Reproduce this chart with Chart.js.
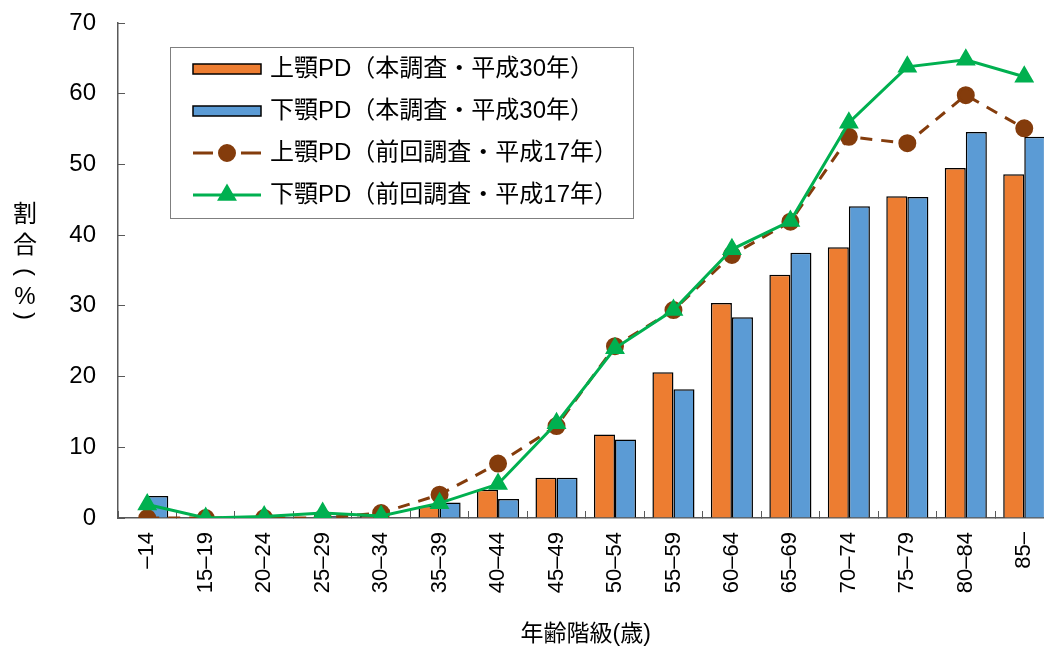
<!DOCTYPE html>
<html>
<head>
<meta charset="utf-8">
<script src="https://cdn.jsdelivr.net/npm/chart.js"></script>
<style>
  html, body { margin: 0; padding: 0; background: #fff; overflow: hidden; }
  canvas { display: block; }
</style>
</head>
<body>
<canvas id="chart" width="1065" height="652"></canvas>
<script>
const ageGroups = ['–14', '15–19', '20–24', '25–29', '30–34', '35–39', '40–44', '45–49',
    '50–54', '55–59', '60–64', '65–69', '70–74', '75–79', '80–84', '85–'];

// 本調査・平成30年
const upperH30 = [0, 0, 0, 0, 0.3, 1.7, 4.0, 5.7, 11.8, 20.6, 30.4, 34.4, 38.3, 45.5, 49.5, 48.6];
const lowerH30 = [3.1, 0, 0, 0.3, 0, 2.2, 2.7, 5.7, 11.1, 18.2, 28.4, 37.5, 44.1, 45.4, 54.6, 53.9];
// 前回調査・平成17年
const upperH17 = [0, 0, 0, 0, 0.7, 3.3, 7.7, 13.0, 24.3, 29.4, 37.2, 41.9, 53.9, 53.0, 59.8, 55.1];
const lowerH17 = [1.9, 0, 0.2, 0.7, 0.3, 2.1, 4.8, 13.4, 24.0, 29.4, 38.0, 42.0, 55.9, 63.8, 64.8, 62.4];

const yTickValues = [0, 10, 20, 30, 40, 50, 60, 70];

const seriesLabels = [
    '上顎PD（本調査・平成30年）',
    '下顎PD（本調査・平成30年）',
    '上顎PD（前回調査・平成17年）',
    '下顎PD（前回調査・平成17年）'
];
// vertical title: characters, with the brackets turned on their side
const yTitleChars = ['割', '合', '(', '%', ')'];
const xTitle = '年齢階級(歳)';

const FONT = "'Liberation Sans', 'Noto Sans CJK JP', sans-serif";
const AXIS_COLOR = '#595959';

// legend drawn inside the plot with a frame, like the original
const legendBox = {
    id: 'legendBox',
    afterDraw(chart) {
        const ctx = chart.ctx;
        const area = chart.chartArea;
        const left = area.left + 52;
        const top = area.top + 24;
        const w = 463, h = 171, rowH = 42;
        ctx.save();
        ctx.fillStyle = '#fff';
        ctx.fillRect(left, top, w, h);
        ctx.strokeStyle = '#7f7f7f';
        ctx.lineWidth = 1;
        ctx.strokeRect(left + 0.5, top + 0.5, w, h);

        chart.data.datasets.forEach((ds, i) => {
            const cy = top + 22 + i * rowH;
            const x0 = left + 23, x1 = left + 91;
            if (ds.type === 'bar') {
                ctx.fillStyle = ds.backgroundColor;
                ctx.fillRect(x0, cy - 5, x1 - x0, 10);
                ctx.strokeStyle = '#000';
                ctx.lineWidth = 1.5;
                ctx.strokeRect(x0, cy - 5, x1 - x0, 10);
            } else {
                ctx.strokeStyle = ds.borderColor;
                ctx.lineWidth = ds.borderWidth;
                ctx.beginPath();
                if (ds.borderDash) {
                    ctx.moveTo(x0, cy); ctx.lineTo(x0 + 20, cy);
                    ctx.moveTo(x1 - 20, cy); ctx.lineTo(x1, cy);
                } else {
                    ctx.moveTo(x0, cy); ctx.lineTo(x1, cy);
                }
                ctx.stroke();
                ctx.fillStyle = ds.pointBackgroundColor;
                ctx.strokeStyle = ds.pointBorderColor;
                Chart.helpers.drawPoint(ctx, {
                    pointStyle: ds.pointStyle, radius: ds.pointRadius,
                    rotation: 0, borderWidth: 1
                }, (x0 + x1) / 2, cy);
            }
            ctx.fillStyle = '#000';
            ctx.font = '24px ' + FONT;
            ctx.textBaseline = 'middle';
            ctx.textAlign = 'left';
            ctx.fillText(ds.label, x1 + 9, cy);
        });
        ctx.restore();
    }
};

// upright stacked y-axis title
const yTitle = {
    id: 'yTitle',
    afterDraw(chart) {
        const ctx = chart.ctx;
        ctx.save();
        ctx.fillStyle = '#000';
        ctx.font = '24px ' + FONT;
        ctx.textAlign = 'center';
        ctx.textBaseline = 'middle';
        const ys = [215, 246, 272, 297, 316];
        yTitleChars.forEach((c, i) => {
            ctx.save();
            ctx.translate(25, ys[i]);
            if (c === '(' || c === ')') ctx.rotate(Math.PI / 2);
            ctx.fillText(c, 0, 0);
            ctx.restore();
        });
        ctx.restore();
    }
};

new Chart(document.getElementById('chart'), {
    data: {
        labels: ageGroups,
        datasets: [
            {
                type: 'bar', label: seriesLabels[0], data: upperH30,
                backgroundColor: '#ED7D31', borderColor: '#000', borderWidth: 1.5,
                categoryPercentage: 0.72, barPercentage: 1, order: 2
            },
            {
                type: 'bar', label: seriesLabels[1], data: lowerH30,
                backgroundColor: '#5B9BD5', borderColor: '#000', borderWidth: 1.5,
                categoryPercentage: 0.72, barPercentage: 1, order: 2
            },
            {
                type: 'line', label: seriesLabels[2], data: upperH17,
                borderColor: '#843C0C', borderWidth: 3, borderDash: [12, 9],
                pointStyle: 'circle', pointRadius: 7.5,
                pointBackgroundColor: '#843C0C', pointBorderColor: '#843C0C',
                tension: 0, order: 1
            },
            {
                type: 'line', label: seriesLabels[3], data: lowerH17,
                borderColor: '#00B050', borderWidth: 3,
                pointStyle: 'triangle', pointRadius: 8.5,
                pointBackgroundColor: '#00B050', pointBorderColor: '#00B050',
                tension: 0, order: 0
            }
        ]
    },
    options: {
        responsive: false,
        animation: false,
        layout: { padding: { top: 23, right: 0, left: 0, bottom: 0 } },
        plugins: {
            legend: { display: false },
            tooltip: { enabled: false }
        },
        scales: {
            x: {
                offset: true,
                grid: {
                    offset: true, drawOnChartArea: false, tickLength: -7,
                    color: AXIS_COLOR, lineWidth: 1
                },
                border: { color: AXIS_COLOR, width: 1.5 },
                ticks: {
                    color: '#000', font: { family: FONT, size: 22 },
                    minRotation: 90, maxRotation: 90, padding: 21, autoSkip: false
                },
                title: {
                    display: true, text: xTitle, color: '#000',
                    font: { family: FONT, size: 23 }, padding: { top: 0, bottom: 4 }
                },
                afterFit(scale) {
                    scale.height = 134;
                    scale.paddingLeft = 0;
                    scale.paddingRight = 0;
                }
            },
            y: {
                min: 0, max: 70,
                afterBuildTicks(scale) { scale.ticks = yTickValues.map(v => ({ value: v })); },
                grid: {
                    drawOnChartArea: false, tickLength: -7,
                    color: AXIS_COLOR, lineWidth: 1
                },
                border: { color: AXIS_COLOR, width: 1.5 },
                ticks: {
                    color: '#000', font: { family: FONT, size: 24 }, padding: 29
                },
                afterFit(scale) {
                    scale.width = 118;
                    scale.paddingTop = 0;
                    scale.paddingBottom = 0;
                }
            }
        }
    },
    plugins: [legendBox, yTitle]
});
</script>
</body>
</html>
